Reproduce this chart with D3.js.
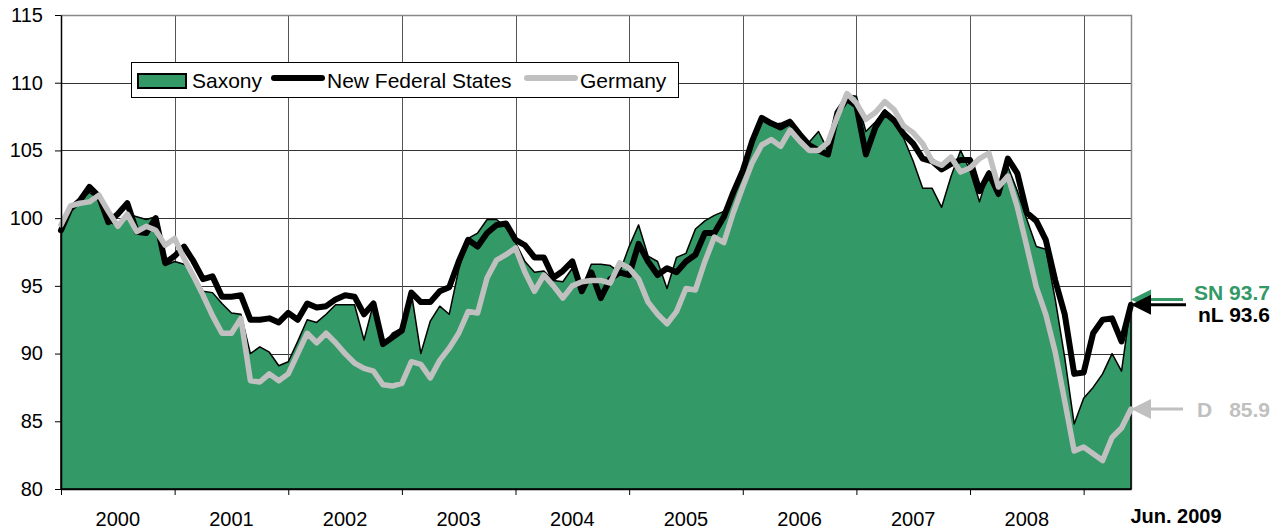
<!DOCTYPE html>
<html><head><meta charset="utf-8">
<script src="https://cdn.jsdelivr.net/npm/d3@7"></script>
<style>
body{margin:0;background:#fff;}
svg{display:block;font-family:"Liberation Sans",Arial,sans-serif;}
</style></head><body>
<svg id="chart" width="1287" height="530"></svg>
<script>
// ---- data (monthly index, Jan 2000 .. Jun 2009) ----
const years = ["2000","2001","2002","2003","2004","2005","2006","2007","2008"];
const lastLabel = "Jun. 2009";
const yTicks = [80,85,90,95,100,105,110,115];
const seriesNames = ["Saxony","New Federal States","Germany"];
const saxony = [
 99.0,100.8,101.3,101.9,101.4,99.7,99.5,100.3,100.1,99.9,100.1,96.5,
 96.8,96.6,95.9,94.6,94.5,93.7,93.0,92.9,90.0,90.5,90.1,89.1,
 89.4,90.9,92.5,92.3,92.9,93.6,93.6,93.6,91.0,93.7,90.6,91.5,
 91.9,94.5,90.0,92.4,93.5,92.9,96.2,98.5,98.9,99.9,99.9,99.3,
 98.2,96.8,96.0,96.1,95.4,95.3,96.3,94.8,96.6,96.6,96.5,96.0,
 97.9,99.5,97.2,96.8,94.8,97.1,97.4,99.2,99.8,100.2,100.5,101.9,
 103.2,105.4,107.3,106.9,107.0,107.3,106.0,105.6,106.4,105.0,108.0,109.1,
 109.0,106.4,107.1,108.0,107.0,105.9,104.2,102.2,102.2,100.8,103.1,105.0,
 103.5,101.2,103.5,101.6,103.8,102.0,99.9,97.9,97.7,94.0,89.7,84.8,
 86.7,87.5,88.5,90.0,88.7,93.7];
const newFederalStates = [
 99.1,100.7,101.3,102.3,101.6,99.7,100.3,101.1,99.0,98.9,100.0,96.7,
 97.2,97.9,96.8,95.5,95.7,94.2,94.2,94.3,92.5,92.5,92.6,92.3,
 93.0,92.5,93.7,93.4,93.5,94.0,94.3,94.2,92.9,93.7,90.7,91.2,
 91.7,94.5,93.8,93.8,94.6,94.9,96.8,98.4,97.9,98.9,99.5,99.6,
 98.4,98.0,97.1,97.1,95.6,96.1,96.8,94.6,96.0,94.1,95.5,96.0,
 95.8,98.1,96.8,95.8,96.3,96.0,96.8,97.3,98.9,98.9,100.1,101.9,
 103.5,105.7,107.4,107.0,106.7,107.1,106.2,105.4,105.0,104.7,107.8,108.8,
 108.3,104.7,106.7,107.8,107.2,106.2,105.5,104.4,104.2,103.6,104.0,104.3,
 104.3,102.0,103.3,101.8,104.4,103.3,100.4,99.8,98.4,95.4,92.9,88.5,
 88.6,91.5,92.5,92.6,90.9,93.6];
const germany = [
 99.5,100.9,101.1,101.2,101.7,100.5,99.4,100.3,99.0,99.4,99.1,98.0,
 98.5,97.0,95.7,94.3,92.8,91.5,91.5,92.6,88.0,87.9,88.5,88.0,
 88.5,90.0,91.5,90.8,91.5,90.8,90.0,89.3,88.9,88.7,87.7,87.6,
 87.8,89.4,89.2,88.2,89.5,90.4,91.5,93.1,93.0,95.6,96.9,97.3,
 97.8,96.0,94.6,95.8,95.0,94.1,95.0,95.3,95.4,95.4,95.2,96.7,
 96.3,95.5,93.8,92.9,92.2,93.1,94.8,94.7,96.8,98.6,98.2,100.4,
 102.3,104.1,105.4,105.8,105.3,106.5,105.7,105.0,105.0,105.6,107.5,109.2,
 108.5,107.3,107.8,108.6,108.0,106.8,106.3,105.5,104.2,103.9,104.5,103.4,
 103.7,104.4,104.8,102.3,103.1,100.8,97.9,94.9,92.9,90.1,86.5,82.8,
 83.1,82.6,82.1,83.8,84.5,85.9];
const endCodes = ["SN","nL","D"];
const endValues = ["93.7","93.6","85.9"];

// ---- layout ----
const svg = d3.select("#chart");
const L = 61, R = 1131, T = 15, B = 489;
const green = "#339966", grey = "#c0c0c0";
const x = d3.scaleLinear().domain([0, saxony.length - 1]).range([L, R]);
const y = d3.scaleLinear().domain([80, 115]).range([B, T]);
const yearStarts = years.map((d, k) => k * 12).concat([108]);

svg.append("rect").attr("width", 1287).attr("height", 530).attr("fill", "#fff");

// gridlines
svg.append("g").selectAll("line").data(yTicks.filter(v => v > 80 && v < 115)).join("line")
  .attr("x1", L).attr("x2", R).attr("y1", d => Math.round(y(d)) + 0.5).attr("y2", d => Math.round(y(d)) + 0.5)
  .attr("stroke", "#333").attr("stroke-width", 1);
svg.append("g").selectAll("line").data(yearStarts.slice(1)).join("line")
  .attr("x1", d => Math.round(x(d)) + 0.5).attr("x2", d => Math.round(x(d)) + 0.5).attr("y1", T).attr("y2", B)
  .attr("stroke", "#555").attr("stroke-width", 1);
// plot border top/right
svg.append("path").attr("d", `M${L},${T + 0.5}H${R + 0.5}V${B}`).attr("fill", "none")
  .attr("stroke", "#888").attr("stroke-width", 1.5);

// Saxony area
const area = d3.area().x((d, i) => x(i)).y0(y(80)).y1(d => y(d));
svg.append("path").datum(saxony).attr("d", area).attr("fill", green)
  .attr("stroke", "#000").attr("stroke-width", 1.5).attr("stroke-linejoin", "round");

const line = d3.line().x((d, i) => x(i)).y(d => y(d));
svg.append("path").datum(newFederalStates).attr("d", line).attr("fill", "none")
  .attr("stroke", "#000").attr("stroke-width", 6).attr("stroke-linejoin", "round").attr("stroke-linecap", "round");
svg.append("path").datum(germany).attr("d", line).attr("fill", "none")
  .attr("stroke", grey).attr("stroke-width", 5.5).attr("stroke-linejoin", "round").attr("stroke-linecap", "round");

// axes
const yAxis = svg.append("g").attr("transform", `translate(${L},0)`)
  .call(d3.axisLeft(y).tickValues(yTicks).tickSize(6).tickSizeOuter(0).tickPadding(12).tickFormat(d3.format("d")));
yAxis.select(".domain").attr("stroke", "#000").attr("stroke-width", 1.5);
yAxis.selectAll(".tick line").attr("stroke", "#000");
yAxis.selectAll("text").attr("font-size", 20).attr("fill", "#000").attr("font-family", "Liberation Sans, Arial, sans-serif");

const xAxis = svg.append("g").attr("transform", `translate(0,${B})`)
  .call(d3.axisBottom(x).tickValues(yearStarts).tickSize(6).tickSizeOuter(0).tickFormat(""));
xAxis.select(".domain").attr("stroke", "#000").attr("stroke-width", 1.5);
xAxis.selectAll(".tick line").attr("stroke", "#000");

svg.append("g").selectAll("text").data(years).join("text")
  .attr("x", (d, k) => (x(k * 12) + x(k * 12 + 12)) / 2).attr("y", 526)
  .attr("text-anchor", "middle").attr("font-size", 20).attr("fill", "#000").text(d => d);
svg.append("text").attr("x", x(saxony.length - 1) + 45).attr("y", 523)
  .attr("text-anchor", "middle").attr("font-size", 20).attr("font-weight", "bold").attr("fill", "#000").text(lastLabel);

// end arrows + labels
const last = saxony.length - 1;
const endColors = [green, "#000", grey];
const endSeries = [saxony, newFederalStates, germany];
const endOffsets = [-4, 0, 0];
const labelBase = [300, 322, 417];
endSeries.forEach((s, k) => {
  const yy = y(s[last]) + endOffsets[k];
  const tip = x(last);
  svg.append("line").attr("x1", tip + 18).attr("x2", tip + (k === 1 ? 55 : 52)).attr("y1", yy).attr("y2", yy)
    .attr("stroke", endColors[k]).attr("stroke-width", 3);
  svg.append("path").attr("d", `M${tip},${yy}L${tip + 20},${yy - 10}L${tip + 20},${yy + 10}Z`).attr("fill", endColors[k]);
});
endCodes.forEach((c, k) => {
  if (k === 2) {
    svg.append("text").attr("x", 1197).attr("y", labelBase[k]).attr("font-size", 21).attr("font-weight", "bold")
      .attr("fill", endColors[k]).text(c);
    svg.append("text").attr("x", 1270).attr("y", labelBase[k]).attr("text-anchor", "end").attr("font-size", 21)
      .attr("font-weight", "bold").attr("fill", endColors[k]).text(endValues[k]);
  } else {
    svg.append("text").attr("x", 1270).attr("y", labelBase[k]).attr("text-anchor", "end").attr("font-size", 21)
      .attr("font-weight", "bold").attr("fill", endColors[k]).text(c + " " + endValues[k]);
  }
});

// legend
const lg = svg.append("g");
lg.append("rect").attr("x", 131.5).attr("y", 62.5).attr("width", 547).attr("height", 35)
  .attr("fill", "#fff").attr("stroke", "#000").attr("stroke-width", 1);
lg.append("rect").attr("x", 138).attr("y", 74).attr("width", 48).attr("height", 14)
  .attr("fill", green).attr("stroke", "#000").attr("stroke-width", 2);
lg.append("line").attr("x1", 274).attr("x2", 322).attr("y1", 78).attr("y2", 78)
  .attr("stroke", "#000").attr("stroke-width", 6).attr("stroke-linecap", "round");
lg.append("line").attr("x1", 527).attr("x2", 575).attr("y1", 78).attr("y2", 78)
  .attr("stroke", grey).attr("stroke-width", 6).attr("stroke-linecap", "round");
const legendX = [192, 327, 580];
lg.selectAll("text.lab").data(seriesNames).join("text").attr("class", "lab")
  .attr("x", (d, i) => legendX[i]).attr("y", 88).attr("font-size", 21).attr("fill", "#000").text(d => d);
</script>
</body></html>
